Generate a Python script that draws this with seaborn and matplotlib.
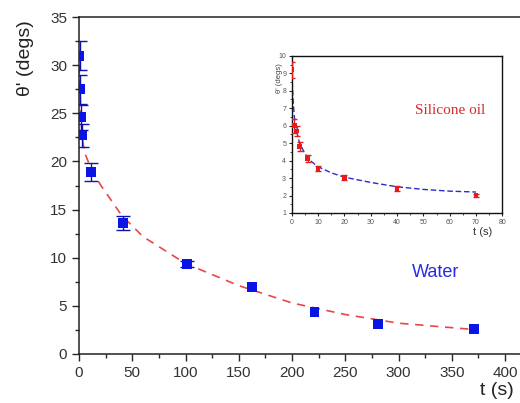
import numpy as np
import pandas as pd
import matplotlib
matplotlib.use("Agg")
import matplotlib.pyplot as plt
import seaborn as sb
from matplotlib.ticker import MultipleLocator

# water drop (main panel)
water_t = [0.5, 1, 2, 3, 11, 41, 101, 162, 221, 281, 371]
water_theta = [31.0, 27.5, 24.6, 22.7, 18.9, 13.6, 9.35, 6.95, 4.35, 3.15, 2.6]
water_err = [1.5, 1.5, 1.3, 1.2, 0.9, 0.7, 0.35, 0.0, 0.0, 0.0, 0.0]
water_fit_t = [0, 1, 2, 3, 5, 10, 20, 40, 60, 100, 150, 200, 250, 300, 370]
water_fit_theta = [30.0, 27.0, 24.5, 22.5, 21.0, 19.6, 17.6, 14.4, 12.2, 9.4, 7.1, 5.3, 4.1, 3.2, 2.55]

# silicone oil (inset)
oil_t = [0, 1, 2, 3, 6, 10, 20, 40, 70]
oil_theta = [9.2, 6.0, 5.7, 4.8, 4.1, 3.55, 3.05, 2.4, 2.0]
oil_err = [0.45, 0.4, 0.3, 0.25, 0.2, 0.15, 0.15, 0.12, 0.08]
oil_fit_t = [0, 0.5, 1, 2, 3, 5, 7, 10, 15, 20, 30, 40, 50, 60, 70]
oil_fit_theta = [9.0, 7.5, 6.5, 5.6, 5.0, 4.4, 4.0, 3.65, 3.3, 3.05, 2.75, 2.5, 2.35, 2.25, 2.2]

sb.set_style("ticks")
plt.rcParams['font.family'] = ['Liberation Sans', 'DejaVu Sans']

fig = plt.figure(figsize=(5.2, 4.03), dpi=100)
ax = fig.add_axes([0.152, 0.1216, 0.848, 0.836])

water = pd.DataFrame({"t": water_t, "theta": water_theta, "err": water_err})
water_fit = pd.DataFrame({"t": water_fit_t, "theta": water_fit_theta})
sb.lineplot(data=water_fit, x="t", y="theta", ax=ax, color="#e8474a",
            linestyle=(0, (5, 4)), linewidth=1.2, zorder=2)
bars = water[water["err"] > 0]
ax.errorbar(bars["t"], bars["theta"], yerr=bars["err"], fmt="none", ecolor="#1010b0",
            elinewidth=1, capsize=5, zorder=3)
sb.scatterplot(data=water, x="t", y="theta", ax=ax, marker="s", s=50,
               color="#0a14e6", edgecolor="none", zorder=4)

ax.set_xlim(0, 414)
ax.set_ylim(0, 35)
ax.xaxis.set_major_locator(MultipleLocator(50))
ax.xaxis.set_minor_locator(MultipleLocator(25))
ax.yaxis.set_major_locator(MultipleLocator(5))
ax.yaxis.set_minor_locator(MultipleLocator(2.5))
ax.tick_params(which="major", length=5, width=1, labelsize=11, labelcolor="#333333")
ax.tick_params(which="minor", length=3, width=1)
ax.spines["right"].set_visible(False)
for s in ["left", "bottom", "top"]:
    ax.spines[s].set_linewidth(1.1)
    ax.spines[s].set_color("#222222")
ax.set_xlabel("")
ax.set_ylabel("")
fig.text(0.05, 0.855, "θ' (degs)", rotation=90, fontsize=14, ha="center", va="center", color="#222222")
fig.text(0.955, 0.032, "t (s)", fontsize=14, ha="center", va="center", color="#222222")
ax.text(335, 8.5, "Water", fontsize=13, color="#2a2ae0", ha="center", va="center")

# inset
ins = fig.add_axes([0.561, 0.4715, 0.405, 0.39])
oil = pd.DataFrame({"t": oil_t, "theta": oil_theta})
oil_fit = pd.DataFrame({"t": oil_fit_t, "theta": oil_fit_theta})
sb.lineplot(data=oil_fit, x="t", y="theta", ax=ins, color="#2a2ad0",
            linestyle=(0, (4, 2)), linewidth=1.0, zorder=2)
ins.errorbar(oil_t, oil_theta, yerr=oil_err, fmt="none", ecolor="#e02020",
             elinewidth=0.9, capsize=2.5, zorder=3)
sb.scatterplot(data=oil, x="t", y="theta", ax=ins, marker="s", s=12,
               color="#e81a1a", edgecolor="none", zorder=4)
ins.set_xlim(0, 80)
ins.set_ylim(1, 10)
ins.xaxis.set_major_locator(MultipleLocator(10))
ins.xaxis.set_minor_locator(MultipleLocator(5))
ins.yaxis.set_major_locator(MultipleLocator(1))
ins.yaxis.set_minor_locator(MultipleLocator(0.5))
ins.tick_params(which="major", length=2.5, width=0.8, labelsize=5, labelcolor="#555555", pad=1.5)
ins.tick_params(which="minor", length=1.5, width=0.6)
for s in ins.spines.values():
    s.set_linewidth(1.0)
    s.set_color("#111111")
ins.set_xlabel("")
ins.set_ylabel("")
fig.text(0.537, 0.805, "θ' (degs)", rotation=90, fontsize=5.5, ha="center", va="center", color="#444444")
fig.text(0.928, 0.424, "t (s)", fontsize=8, ha="center", va="center", color="#333333")
ins.text(60, 6.85, "Silicone oil", fontsize=11, color="#d42a2a", ha="center", va="center",
         family=["Liberation Serif", "DejaVu Serif"])

fig.savefig("out.png", dpi=100)
